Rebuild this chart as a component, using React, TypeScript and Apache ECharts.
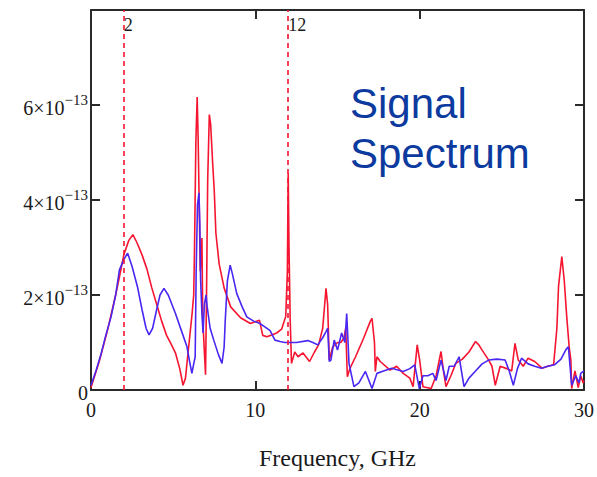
import React, { useEffect, useRef } from "react";
import * as echarts from "echarts";

// Frequency (GHz) and spectrum values (in units of 1e-13)
const redFreq = [0, 0.5, 1.0, 1.5, 1.8, 2.0, 2.3, 2.55, 2.8, 3.1, 3.4, 3.7, 4.0, 4.3, 4.6, 4.9, 5.15, 5.4, 5.6, 5.75, 5.85, 6.0, 6.15, 6.25, 6.3, 6.38, 6.46, 6.52, 6.58, 6.65, 6.75, 6.8, 6.9, 6.97, 7.03, 7.1, 7.2, 7.28, 7.4, 7.5, 7.6, 7.8, 8.1, 8.5, 9.1, 9.7, 10.25, 10.45, 10.7, 11.0, 11.3, 11.6, 11.85, 11.95, 12.0, 12.05, 12.12, 12.2, 12.4, 12.6, 12.9, 13.3, 13.6, 13.85, 14.1, 14.3, 14.4, 14.5, 14.7, 15.0, 15.2, 15.4, 15.5, 15.6, 15.75, 16.1, 16.6, 17.0, 17.1, 17.25, 17.3, 17.4, 17.6, 18.2, 18.6, 19.0, 19.4, 19.6, 19.85, 20.0, 20.2, 20.7, 21.0, 21.3, 21.45, 21.6, 21.9, 22.2, 22.6, 23.0, 23.4, 23.6, 23.8, 24.2, 24.4, 24.6, 24.9, 25.3, 25.6, 25.8, 26.0, 26.3, 26.6, 27.0, 27.45, 27.8, 28.15, 28.35, 28.45, 28.65, 28.8, 28.95, 29.1, 29.2, 29.25, 29.45, 29.65, 29.8, 29.95, 30.0];
const redVal = [0.05, 0.6, 1.25, 2.0, 2.5, 2.85, 3.15, 3.27, 3.1, 2.85, 2.55, 2.15, 1.8, 1.45, 1.15, 0.95, 0.77, 0.45, 0.1, 0.25, 0.6, 1.1, 1.6, 2.0, 3.0, 5.2, 6.17, 5.3, 4.0, 2.5, 3.2, 1.5, 0.8, 0.32, 2.0, 4.4, 5.8, 5.6, 4.8, 4.2, 3.3, 2.65, 2.15, 1.75, 1.52, 1.4, 1.47, 1.15, 1.12, 1.16, 1.2, 1.28, 1.55, 2.5, 4.56, 3.0, 1.5, 0.56, 0.8, 0.7, 0.78, 0.6, 0.8, 0.95, 1.3, 2.14, 1.8, 0.63, 0.9, 1.0, 1.0, 1.1, 1.3, 0.28, 0.45, 0.7, 1.1, 1.45, 1.51, 1.0, 0.39, 0.7, 0.6, 0.42, 0.5, 0.35, 0.25, 0.07, 0.95, 0.63, 0.07, 0.03, 0.3, 0.81, 0.4, 0.07, 0.3, 0.56, 0.65, 0.8, 1.02, 0.95, 0.84, 0.63, 0.5, 0.1, 0.5, 0.45, 0.4, 0.98, 0.63, 0.5, 0.67, 0.6, 0.46, 0.5, 0.53, 1.3, 2.18, 2.81, 2.3, 1.54, 0.9, 0.63, 0.03, 0.4, 0.05, 0.3, 0.15, 0.2];

const blueFreq = [0, 0.3, 0.62, 0.9, 1.22, 1.5, 1.73, 2.0, 2.23, 2.5, 2.83, 3.1, 3.35, 3.53, 3.75, 4.0, 4.2, 4.44, 4.7, 5.14, 5.5, 5.84, 6.0, 6.14, 6.25, 6.34, 6.4, 6.48, 6.57, 6.62, 6.67, 6.75, 6.82, 6.9, 7.0, 7.07, 7.25, 7.47, 7.75, 7.97, 8.1, 8.17, 8.3, 8.47, 8.6, 8.87, 9.2, 9.48, 9.9, 10.28, 10.58, 10.9, 11.19, 11.5, 11.79, 12.5, 13.19, 13.5, 13.8, 14.1, 14.3, 14.4, 14.5, 14.6, 14.8, 15.0, 15.25, 15.45, 15.56, 15.7, 16.0, 16.3, 16.7, 17.1, 17.4, 17.8, 18.3, 19.0, 19.4, 19.7, 19.98, 20.2, 20.5, 20.8, 21.0, 21.3, 21.6, 21.8, 22.1, 22.4, 22.7, 23.0, 23.4, 23.8, 24.2, 24.7, 25.2, 25.45, 25.7, 25.95, 26.2, 26.6, 27.0, 27.4, 27.8, 28.2, 28.6, 28.9, 29.05, 29.15, 29.25, 29.5, 29.7, 29.8, 30.0];
const blueVal = [0.1, 0.4, 0.77, 1.15, 1.54, 2.0, 2.53, 2.75, 2.88, 2.6, 2.17, 1.7, 1.3, 1.16, 1.3, 1.7, 2.0, 2.14, 2.0, 1.61, 1.25, 0.91, 0.6, 0.35, 0.55, 0.7, 2.5, 3.9, 4.15, 3.5, 2.32, 1.6, 1.2, 1.8, 2.0, 1.75, 1.3, 1.05, 0.75, 0.56, 0.9, 1.47, 2.3, 2.63, 2.45, 2.03, 1.75, 1.54, 1.45, 1.4, 1.33, 1.25, 1.05, 1.02, 1.0, 1.0, 1.04, 1.0, 0.95, 1.1, 1.23, 1.3, 0.6, 0.63, 1.05, 0.84, 1.2, 1.0, 1.61, 0.56, 0.07, 0.15, 0.39, 0.03, 0.35, 0.4, 0.46, 0.39, 0.45, 0.53, 0.03, 0.3, 0.3, 0.35, 0.2, 0.63, 0.2, 0.5, 0.5, 0.7, 0.07, 0.25, 0.4, 0.55, 0.63, 0.65, 0.63, 0.4, 0.1, 0.45, 0.67, 0.55, 0.5, 0.46, 0.5, 0.53, 0.65, 0.85, 0.91, 0.5, 0.1, 0.3, 0.15, 0.35, 0.4];

const markerFreqs = [2, 12];
const xTicks = { min: 0, max: 30, interval: 10 };
const yTicks = { min: 0, max: 8, interval: 2 };
const yExponent = "−13";
const xName = "Frequency, GHz";
const titleLines = ["Signal", "Spectrum"];

const RED = "#f51530";
const BLUE = "#4a26f2";
const SERIF = "'Liberation Serif', 'DejaVu Serif', serif";

export default function App() {
  const ref = useRef<HTMLDivElement>(null);
  useEffect(() => {
    if (!ref.current) return;
    const chart = echarts.init(ref.current, null, { renderer: "svg" });
    const pairs = (xs: number[], ys: number[]) => xs.map((x, i) => [x, ys[i]]);
    const axisLine = { show: true, onZero: false, lineStyle: { color: "#2a2a2a", width: 2 } };
    const axisTick = { show: true, inside: true, length: 9, lineStyle: { color: "#2a2a2a", width: 2 } };
    chart.setOption({
      animation: false,
      backgroundColor: "#ffffff",
      grid: { left: 91, right: 8, top: 10, bottom: 87, containLabel: false },
      graphic: [
        {
          type: "text",
          left: 350,
          top: 78,
          style: {
            text: titleLines.join("\n"),
            font: "42px 'Liberation Sans', Arial, sans-serif",
            lineHeight: 50,
            fill: "#0c3a9e",
          },
        },
      ],
      xAxis: [
        {
          type: "value",
          position: "bottom",
          ...xTicks,
          name: xName,
          nameLocation: "middle",
          nameGap: 56,
          nameTextStyle: { fontFamily: SERIF, fontSize: 24, color: "#1a1a1a" },
          axisLine,
          axisTick,
          axisLabel: { fontFamily: SERIF, fontSize: 20, color: "#1a1a1a", margin: 10 },
          splitLine: { show: false },
        },
        {
          type: "value",
          position: "top",
          ...xTicks,
          axisLine,
          axisTick,
          axisLabel: { show: false },
          splitLine: { show: false },
        },
      ],
      yAxis: [
        {
          type: "value",
          position: "left",
          ...yTicks,
          axisLine,
          axisTick,
          axisLabel: {
            margin: 3,
            formatter: (v: number) =>
              v === 0 ? "{m|0}" : v === yTicks.max ? "" : `{m|${v}×10}{e|${yExponent}}`,
            rich: {
              m: { fontFamily: SERIF, fontSize: 20, color: "#1a1a1a", padding: [6, 0, 0, 0] },
              e: { fontFamily: SERIF, fontSize: 15, color: "#1a1a1a", padding: [0, 0, 10, 0] },
            },
          },
          splitLine: { show: false },
        },
        {
          type: "value",
          position: "right",
          ...yTicks,
          axisLine,
          axisTick,
          axisLabel: { show: false },
          splitLine: { show: false },
        },
      ],
      series: [
        {
          type: "line",
          name: "red",
          xAxisIndex: 0,
          yAxisIndex: 0,
          data: pairs(redFreq, redVal),
          showSymbol: false,
          lineStyle: { color: RED, width: 1.6 },
          itemStyle: { color: RED },
          z: 2,
          markLine: {
            silent: true,
            symbol: "none",
            lineStyle: { color: RED, type: [5, 4], width: 1.6 },
            label: {
              show: true,
              position: "end",
              distance: -24,
              formatter: (p: any) => String(p.value),
              fontFamily: SERIF,
              fontSize: 18,
              color: "#1a1a1a",
              align: "left",
              padding: [0, 0, 0, 0],
            },
            data: markerFreqs.map((f) => ({ xAxis: f })),
          },
        },
        {
          type: "line",
          name: "blue",
          xAxisIndex: 0,
          yAxisIndex: 0,
          data: pairs(blueFreq, blueVal),
          showSymbol: false,
          lineStyle: { color: BLUE, width: 1.6 },
          itemStyle: { color: BLUE },
          z: 3,
        },
      ],
    });
    return () => chart.dispose();
  }, []);
  return (
    <div
      ref={ref}
      style={{ position: "fixed", left: 0, top: 0, width: 597, height: 477, background: "#fff" }}
    />
  );
}
